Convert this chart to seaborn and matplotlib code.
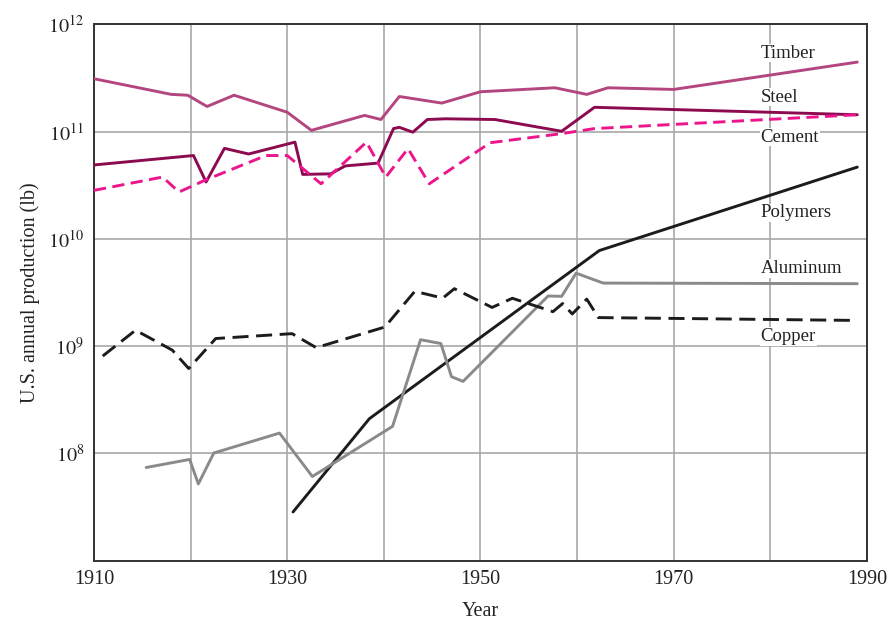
import numpy as np
import pandas as pd
import matplotlib
matplotlib.use('Agg')
import matplotlib.pyplot as plt
import seaborn as sns

# values (lb per year)
timber_years = [1910, 1918, 1919.7, 1921.7, 1924.5, 1930, 1932.5, 1938, 1939.7, 1941.6,
                1946, 1950, 1957.7, 1961, 1963.2, 1970, 1989]
timber_vals = [3.12e11, 2.23e11, 2.19e11, 1.72e11, 2.19e11, 1.52e11, 1.03e11, 1.42e11, 1.30e11, 2.13e11,
               1.85e11, 2.36e11, 2.57e11, 2.23e11, 2.57e11, 2.48e11, 4.46e11]

steel_years = [1910, 1920.3, 1921.6, 1923.5, 1926, 1930.8, 1931.6, 1934.5, 1936, 1939.4,
               1941, 1941.6, 1943, 1944.5, 1946.4, 1951.5, 1958.4, 1961.8, 1989]
steel_vals = [4.9e10, 6.0e10, 3.4e10, 7.0e10, 6.2e10, 8.0e10, 4.0e10, 4.05e10, 4.8e10, 5.1e10,
              1.07e11, 1.10e11, 9.9e10, 1.30e11, 1.32e11, 1.30e11, 1.01e11, 1.69e11, 1.44e11]

cement_years = [1910, 1917.1, 1918.8, 1921.6, 1927.8, 1930, 1933.5, 1938.2, 1940.2, 1942.5,
                1944.7, 1951, 1958.4, 1961.8, 1989]
cement_vals = [2.84e10, 3.78e10, 2.74e10, 3.57e10, 6.0e10, 6.0e10, 3.27e10, 8.0e10, 3.78e10, 6.95e10,
               3.27e10, 7.9e10, 9.6e10, 1.07e11, 1.44e11]

polymer_years = [1930.6, 1938.5, 1962.3, 1989]
polymer_vals = [2.85e7, 2.11e8, 7.8e9, 4.68e10]

aluminum_years = [1915.4, 1919.9, 1920.8, 1922.4, 1929.2, 1932.6, 1940.9, 1943.8, 1945.9, 1947,
                  1948.2, 1957, 1958.4, 1959.9, 1962.7, 1989]
aluminum_vals = [7.4e7, 8.8e7, 5.2e7, 1.01e8, 1.55e8, 6.1e7, 1.79e8, 1.15e9, 1.06e9, 5.2e8,
                 4.7e8, 2.94e9, 2.92e9, 4.8e9, 3.88e9, 3.83e9]

copper_years = [1910.9, 1914.3, 1918.1, 1919.8, 1922.6, 1930.5, 1933, 1940.1, 1943.2, 1946.1,
                1947.3, 1951.2, 1953.3, 1957.5, 1958.5, 1959.5, 1961, 1962.2, 1989]
copper_vals = [8.1e8, 1.41e9, 9.2e8, 6.2e8, 1.18e9, 1.31e9, 9.7e8, 1.51e9, 3.25e9, 2.81e9,
               3.44e9, 2.3e9, 2.8e9, 2.1e9, 2.5e9, 2.0e9, 2.75e9, 1.85e9, 1.74e9]

materials = ['Timber', 'Steel', 'Cement', 'Polymers', 'Aluminum', 'Copper']
# where each name sits (year, value)
label_pos = [(1979, 5.4e11), (1979, 2.1e11), (1979, 8.9e10), (1979, 1.75e10), (1979, 5.3e9), (1979, 1.23e9)]

x_ticks = [1910, 1920, 1930, 1940, 1950, 1960, 1970, 1980, 1990]
x_labels = ['1910', '', '1930', '', '1950', '', '1970', '', '1990']
y_ticks = [1e8, 1e9, 1e10, 1e11, 1e12]
y_labels = [r'$10^{8}$', r'$10^{9}$', r'$10^{10}$', r'$10^{11}$', r'$10^{12}$']

series = {
    'Timber': (timber_years, timber_vals),
    'Steel': (steel_years, steel_vals),
    'Cement': (cement_years, cement_vals),
    'Polymers': (polymer_years, polymer_vals),
    'Aluminum': (aluminum_years, aluminum_vals),
    'Copper': (copper_years, copper_vals),
}
df = pd.concat([pd.DataFrame({'year': yrs, 'lb': vals, 'material': name})
                for name, (yrs, vals) in series.items()], ignore_index=True)

palette = {'Timber': '#b4467f', 'Steel': '#8c0a50', 'Cement': '#ec168c',
           'Polymers': '#1c1c1c', 'Aluminum': '#8a8a8a', 'Copper': '#1c1c1c'}
dashes = {'Timber': '', 'Steel': '', 'Cement': (4.2, 2.2),
          'Polymers': '', 'Aluminum': '', 'Copper': (5.5, 2.6)}

sns.set_style('white')
plt.rcParams['font.family'] = ['Liberation Serif', 'DejaVu Serif']
plt.rcParams['mathtext.fontset'] = 'stix'

fig = plt.figure(figsize=(8.91, 6.2), dpi=100)
ax = fig.add_axes([0.1055, 0.0956, 0.8675, 0.8649])

sns.lineplot(data=df, x='year', y='lb', hue='material', style='material',
             palette=palette, dashes=dashes, estimator=None, sort=False,
             linewidth=2.1, legend=False, ax=ax, zorder=3)

ax.set_yscale('log')
ax.set_xlim(1910, 1990)
ax.set_ylim(1e7, 1e12)
ax.set_xticks(x_ticks)
ax.set_xticklabels(x_labels)
ax.set_yticks(y_ticks)
ax.set_yticklabels(y_labels)
ax.yaxis.set_minor_locator(matplotlib.ticker.NullLocator())
ax.tick_params(axis='both', length=0, labelsize=14.5, colors='#222222')
ax.tick_params(axis='x', pad=7)
ax.tick_params(axis='y', pad=7)
ax.grid(True, color='#a8a8a8', linewidth=1.2, zorder=0)
ax.set_axisbelow(True)
for sp in ax.spines.values():
    sp.set_color('#333333')
    sp.set_linewidth(1.4)
    sp.set_visible(True)

for name, (lx, ly) in zip(materials, label_pos):
    ax.text(lx, ly, name, ha='left', va='center', fontsize=13.5, color='#222222', zorder=4,
            bbox=dict(facecolor='white', edgecolor='none', pad=0.5))

ax.set_xlabel('Year', fontsize=14.5, color='#222222', labelpad=9)
ax.set_ylabel('U.S. annual production (lb)', fontsize=14.5, color='#222222', labelpad=6)

fig.savefig('out.png', dpi=100)
